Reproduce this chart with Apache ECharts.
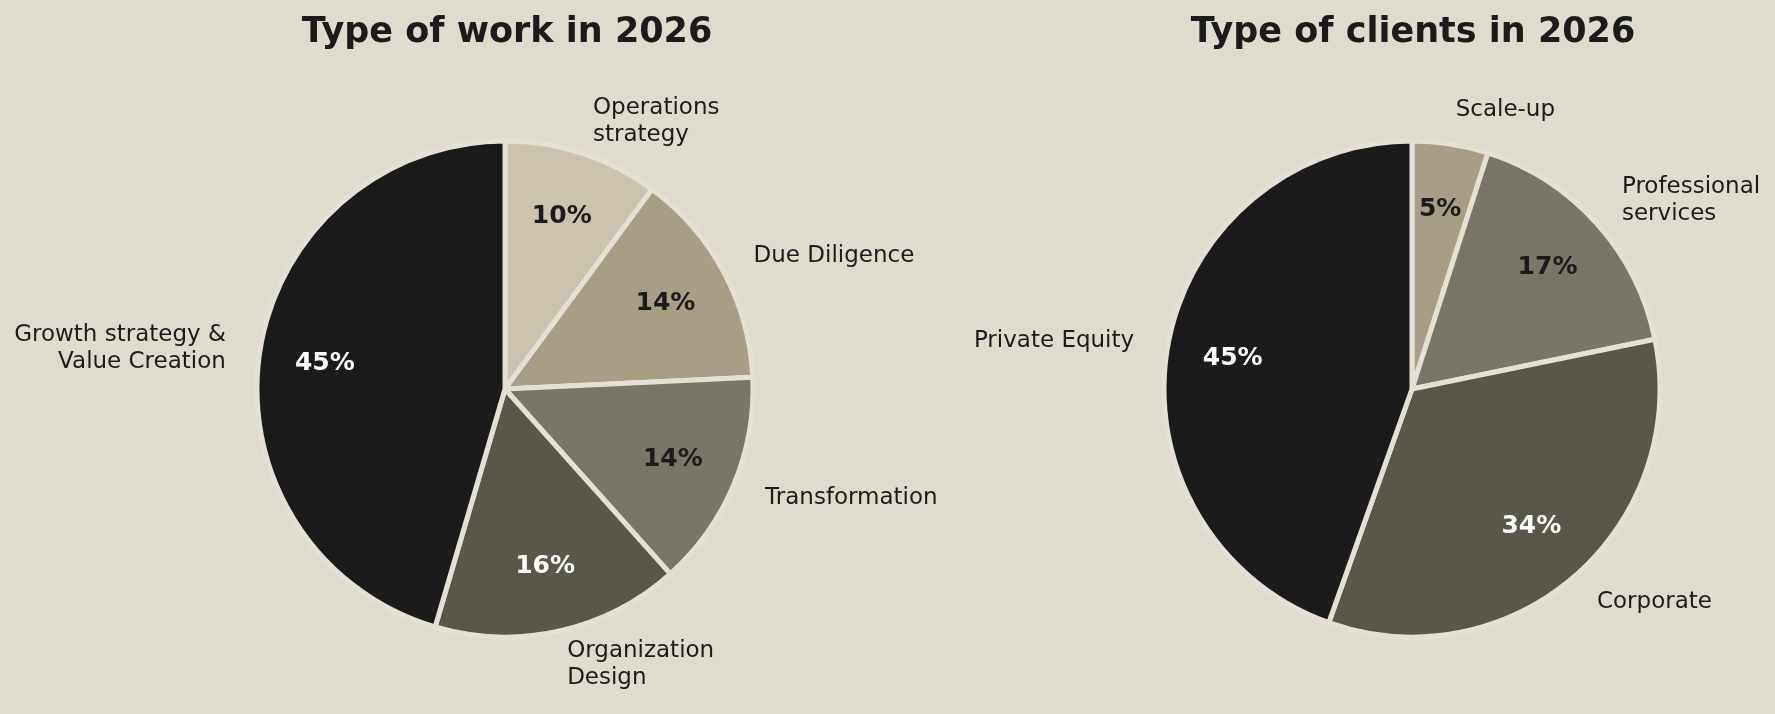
<!DOCTYPE html>
<html>
<head>
<meta charset="utf-8">
<script src="https://cdn.jsdelivr.net/npm/echarts@6/dist/echarts.min.js"></script>
<style>
  html, body { margin: 0; padding: 0; background: #dfdbcf; }
  #chart { width: 1775px; height: 714px; }
</style>
</head>
<body>
<div id="chart"></div>
<script>
const workCategories = ['Operations\nstrategy', 'Due Diligence', 'Transformation', 'Organization\nDesign', 'Growth strategy &\nValue Creation'];
const workShares = [10, 14, 14, 16, 45];
const workColors = ['#cbc3ae', '#a89e86', '#7a7569', '#58574a', '#1b1b1b'];
const workPctColors = ['#1b1b1b', '#1b1b1b', '#1b1b1b', '#ffffff', '#ffffff'];

const clientCategories = ['Scale-up', 'Professional\nservices', 'Corporate', 'Private Equity'];
const clientShares = [5, 17, 34, 45];
const clientColors = ['#a89e86', '#7a7569', '#58574a', '#1b1b1b'];
const clientPctColors = ['#1b1b1b', '#1b1b1b', '#ffffff', '#ffffff'];

const BG = '#dfdbcf';
const FONT = 'DejaVu Sans';
const R = 248;
const R_INNER = 110; // puts the % labels at ~0.72 of the radius
const CY = 389;

const chart = echarts.init(document.getElementById('chart'));

// pie with the outside category labels
const mainPie = (center, names, values, colors) => ({
  type: 'pie',
  center,
  radius: [0, R],
  clockwise: true,
  startAngle: 90,
  silent: true,
  avoidLabelOverlap: false,
  itemStyle: { borderColor: '#e4e0d5', borderWidth: 5 },
  label: {
    show: true,
    position: 'outside',
    fontFamily: FONT,
    fontSize: 23,
    color: '#1b1b1b',
    lineHeight: 27,
    distanceToLabelLine: 0,
    formatter: (p) => p.name,
  },
  labelLine: { show: false, length: 34, length2: 0 },
  data: names.map((name, i) => ({ name, value: values[i], itemStyle: { color: colors[i] } })),
});

// transparent ring, only there to place the percentages
const pctPie = (center, names, values, pctColors) => ({
  type: 'pie',
  center,
  radius: [R_INNER, R],
  clockwise: true,
  startAngle: 90,
  silent: true,
  itemStyle: { color: 'rgba(0,0,0,0)', borderWidth: 0 },
  label: {
    show: true,
    position: 'inside',
    fontFamily: FONT,
    fontSize: 25,
    fontWeight: 'bold',
    formatter: (p) => `${p.value}%`,
  },
  labelLine: { show: false },
  data: names.map((name, i) => ({ name, value: values[i], label: { color: pctColors[i] } })),
});

const titleStyle = { fontFamily: FONT, fontSize: 35, fontWeight: 'bold', color: '#1b1b1b' };

chart.setOption({
  backgroundColor: BG,
  animation: false,
  title: [
    { text: 'Type of work in 2026', left: 502, top: 10, textAlign: 'center', textStyle: titleStyle },
    { text: 'Type of clients in 2026', left: 1408, top: 10, textAlign: 'center', textStyle: titleStyle },
  ],
  series: [
    mainPie([505, CY], workCategories, workShares, workColors),
    pctPie([505, CY], workCategories, workShares, workPctColors),
    mainPie([1412, CY], clientCategories, clientShares, clientColors),
    pctPie([1412, CY], clientCategories, clientShares, clientPctColors),
  ],
});
</script>
</body>
</html>
